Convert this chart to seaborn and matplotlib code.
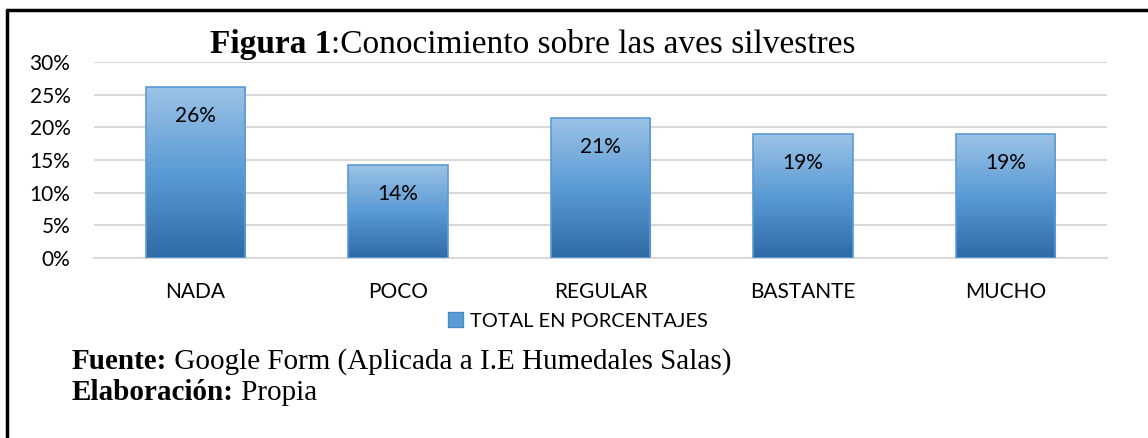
import numpy as np
import pandas as pd
import matplotlib
matplotlib.use("Agg")
import matplotlib.pyplot as plt
import seaborn as sns
from matplotlib.colors import LinearSegmentedColormap
from matplotlib.patches import Patch
from matplotlib.lines import Line2D

# Data
categorias = ["NADA", "POCO", "REGULAR", "BASTANTE", "MUCHO"]
valores = [26.19, 14.29, 21.43, 19.05, 19.05]
etiquetas = ["26%", "14%", "21%", "19%", "19%"]
yticks = [0, 5, 10, 15, 20, 25, 30]
serie = "TOTAL EN PORCENTAJES"

df = pd.DataFrame({"categoria": categorias, "valor": valores})

sns.set_style("white")
plt.rcParams["font.family"] = ["Lato", "DejaVu Sans"]
plt.rcParams["text.color"] = "black"
plt.rcParams["xtick.color"] = "black"
plt.rcParams["ytick.color"] = "black"

W, H = 1148, 438
fig = plt.figure(figsize=(W / 100, H / 100), dpi=100)
ax = fig.add_axes([94 / W, 1 - 258 / H, (1107 - 94) / W, 196 / H])

sns.barplot(data=df, x="categoria", y="valor", ax=ax, width=0.49,
            color="#5B9BD5", edgecolor="#5B9BD5", linewidth=1.2, zorder=3)

# gradient fill for each bar
cmap = LinearSegmentedColormap.from_list("g", ["#2E6AA6", "#5B9BD5", "#9DC3E6"])
grad = np.linspace(0, 1, 256).reshape(-1, 1)
for p in ax.patches:
    x0, y0 = p.get_x(), p.get_y()
    w, h = p.get_width(), p.get_height()
    im = ax.imshow(grad, extent=[x0, x0 + w, y0, y0 + h], origin="lower",
                   aspect="auto", cmap=cmap, zorder=3.5)
    im.set_clip_path(p)
    p.set_facecolor("none")
    p.set_zorder(4)

ax.set_xlim(-0.5, len(categorias) - 0.5)
ax.set_ylim(0, 30)
ax.set_yticks(yticks)
ax.set_yticklabels([f"{t}%" for t in yticks])
ax.yaxis.grid(True, color="#D9D9D9", linewidth=1.5, zorder=0)
ax.set_axisbelow(True)
for s in ["top", "right", "left"]:
    ax.spines[s].set_visible(False)
ax.spines["bottom"].set_color("#D9D9D9")
ax.spines["bottom"].set_linewidth(1.5)
ax.tick_params(axis="y", length=0, pad=17, labelsize=15)
ax.tick_params(axis="x", length=0, pad=17, labelsize=15)
ax.set_xlabel("")
ax.set_ylabel("")

for i, (v, lab) in enumerate(zip(valores, etiquetas)):
    ax.annotate(lab, (i, v), xytext=(0, -21), textcoords="offset points",
                ha="center", va="center", fontsize=15, color="black", zorder=6)

# legend
handle = Patch(facecolor="#5B9BD5", edgecolor="#4A86C0")
fig.legend([handle], [serie], loc="center", bbox_to_anchor=(578 / W, 1 - 321 / H),
           frameon=False, fontsize=14.4, handlelength=0.75, handleheight=0.75,
           handletextpad=0.35)

# mixed bold / regular text lines
serif = ["Liberation Serif", "DejaVu Serif"]
fig.canvas.draw()
renderer = fig.canvas.get_renderer()


def linea(x, y, partes, size):
    for txt, peso in partes:
        t = fig.text(x / W, 1 - y / H, txt, fontsize=size, fontweight=peso,
                     family=serif, va="baseline", ha="left", color="black")
        bb = t.get_window_extent(renderer)
        x += bb.width


linea(210, 53, [("Figura 1", "bold"), (":Conocimiento sobre las aves silvestres", "normal")], 24)
linea(72, 369, [("Fuente:", "bold"), (" Google Form (Aplicada a I.E Humedales Salas)", "normal")], 21)
linea(72, 400, [("Elaboración:", "bold"), (" Propia", "normal")], 21)

# outer frame (left and top)
fig.add_artist(Line2D([7 / W, 7 / W], [0, 1 - 10 / H], color="black", lw=2.5,
                      transform=fig.transFigure))
fig.add_artist(Line2D([7 / W, 1], [1 - 10 / H, 1 - 10 / H], color="black", lw=2.5,
                      transform=fig.transFigure))

fig.savefig("out.png", dpi=100, facecolor="white")
